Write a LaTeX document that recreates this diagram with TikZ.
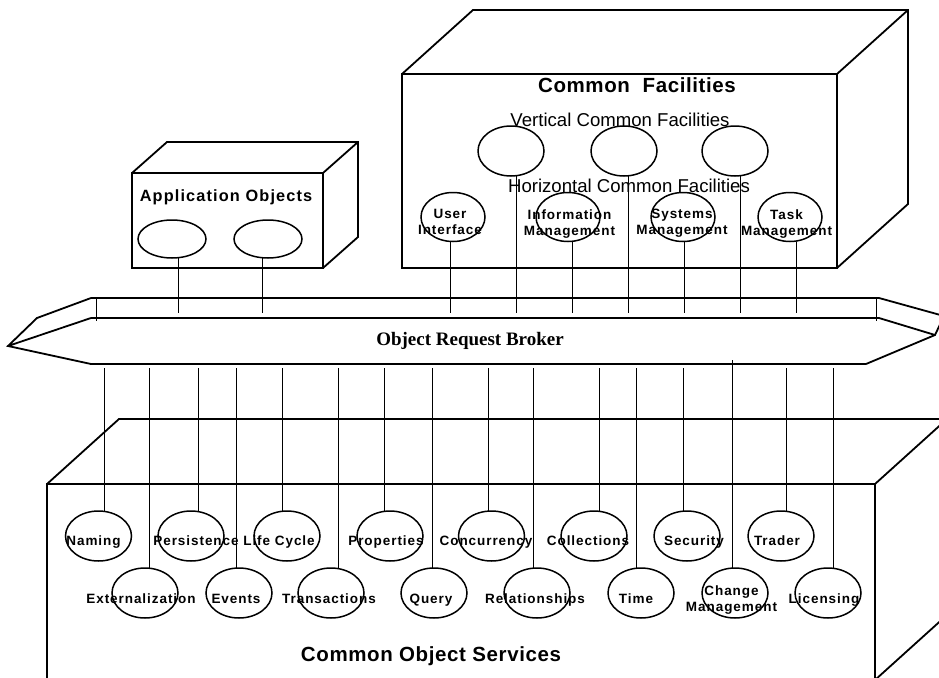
\documentclass[tikz,border=0pt]{standalone}
\usepackage{fontspec}
\usetikzlibrary{shapes.geometric}
\newfontfamily\arialfont{Liberation Sans}
\newfontfamily\spacedfont[LetterSpace=7]{Liberation Sans}
\newfontfamily\titlefont[LetterSpace=3]{Liberation Sans}
\newfontfamily\timesfont{Liberation Serif}
\tikzset{
  edge/.style={line width=1.8pt},
  face/.style={draw, edge, inner sep=0pt, outer sep=0pt},
  obj/.style={draw, ellipse, line width=1.5pt, inner sep=0pt, outer sep=0pt,
    minimum width=66pt, minimum height=50pt},
  wire/.style={line width=1pt},
  small/.style={font=\fontsize{13.5}{16}\spacedfont\bfseries, align=center, inner sep=0pt},
  one/.style={small, text height=9.8pt, text depth=2.8pt},
  title/.style={font=\fontsize{20.5}{24}\titlefont\bfseries, inner sep=0pt, anchor=base},
  sub/.style={font=\fontsize{18.6}{22}\arialfont, inner sep=0pt, anchor=base}
}

\begin{document}
\begin{tikzpicture}[x=1pt, y=-1pt]
  \useasboundingbox (0,0) rectangle (939,677);

  % object request broker
  \coordinate (orbhang) at (0,313);
  \coordinate (orbfoot) at (0,368);
  \draw[edge] (91,298) -- (879,298) (91,318) -- (879,318) (91,364) -- (866,364);
  \draw[edge] (91,298) -- (37,318) -- (8,346) -- (91,364) (91,318) -- (8,346);
  \draw[edge] (879,298) -- (944,316) -- (935,335) -- (866,364) (879,318) -- (935,335);
  \draw[wire] (96,298) -- (96,321) (876,298) -- (876,321);
  \node[font=\fontsize{19}{22}\timesfont\bfseries, inner sep=0pt, anchor=base] (orb) at (470,345.5) {Object Request Broker};

  % application objects
  \node[face, minimum width=191pt, minimum height=95pt] (app) at (227.5,220.5) {};
  \draw[edge] (app.north west) -- ++(35,-31) -| ([shift={(35,-31)}]app.south east) -- (app.south east);
  \draw[edge] (app.north east) -- ++(35,-31);
  \node[title, font=\fontsize{16.3}{18}\spacedfont\bfseries] (appt) at (226,201.7) {Application Objects};
  \foreach \n/\x/\d in {ao1/172/6, ao2/268/-6}{
    \node[obj, minimum width=68pt, minimum height=38pt] (\n) at (\x,239) {};
    \draw[wire] ([xshift=\d]\n.south) -- ([xshift=\d]\n.south |- orbhang);
  }

  % common facilities
  \node[face, minimum width=435pt, minimum height=194pt] (cf) at (619.5,171) {};
  \draw[edge] (cf.north west) -- ++(71,-64) -| ([shift={(71,-64)}]cf.south east) -- (cf.south east);
  \draw[edge] (cf.north east) -- ++(71,-64);
  \node[title] (cft) at (637,92.5) {Common\ \ Facilities};
  \node[sub] (vcf) at (620,126) {Vertical Common Facilities};
  \node[sub] (hcf) at (629,192.7) {Horizontal Common Facilities};
  \foreach \n/\x/\d in {vf1/511/5, vf2/624/4, vf3/735/5}{
    \node[obj] (\n) at (\x,151) {};
    \draw[wire] ([xshift=\d]\n.south) -- ([xshift=\d]\n.south |- orbhang);
  }
  \foreach \n/\x/\d/\tx/\ty/\t in {ui/453/-3/-3/5.4/{User\\Interface},
      im/568/4/1.5/6.6/{Information\\Management},
      sm/683/1/-1/6.6/{Systems\\Management},
      tm/790/6/-3.5/6.6/{Task\\Management}}{
    \node[obj, minimum width=64pt, minimum height=49pt,
      label={[small, shift={(\tx,\ty)}]center:\t}] (\n) at (\x,217) {};
    \draw[wire] ([xshift=\d]\n.south) -- ([xshift=\d]\n.south |- orbhang);
  }

  % common object services
  \node[face, minimum width=828pt, minimum height=196pt] (cos) at (461,582) {};
  \draw[edge] (cos.north west) -- ++(72,-65) -| ([shift={(72,-65)}]cos.south east) -- (cos.south east);
  \draw[edge] (cos.north east) -- ++(72,-65);
  \node[title] (cost) at (431,661.5) {Common Object Services};
  \foreach \n/\x/\y/\tx/\ty/\d/\t in {
      nam/98.5/536/-5/6.3/5.5/Naming, per/191/536/5/6.3/7/Persistence,
      lif/287/536/-8/6.3/-5/Life Cycle, pro/390/536/-4/6.3/-6/Properties,
      con/491.5/536/-5.5/6.3/-3.5/Concurrency, col/594/536/-6/6.3/5/Collections,
      sec/687/536/7/6.3/-4/Security, tra/781/536/-4/6.3/5/Trader,
      ext/145/593/-4/6.9/4/Externalization, evt/239/593/-3/6.9/-3/Events,
      trn/331/593/-2/6.9/7/Transactions, qry/434/593/-3/6.9/-2/Query,
      rel/537/593/-2/6.9/-4/Relationships, tim/641/593/-5/6.9/-5/Time,
      lic/828/593/-4/6.9/5/Licensing}{
    \node[obj, label={[one, shift={(\tx,\ty)}]center:\t}] (\n) at (\x,\y) {};
    \draw[wire] ([xshift=\d]\n.north |- orbfoot) -- ([xshift=\d]\n.north);
  }
  \node[obj, label={[small, shift={(-3.5,7.5)}]center:Change\\Management}] (chg) at (735,593) {};
  \draw[wire] ([xshift=-3, yshift=8]chg.north |- orbfoot) -- ([xshift=-3]chg.north);
\end{tikzpicture}
\end{document}
